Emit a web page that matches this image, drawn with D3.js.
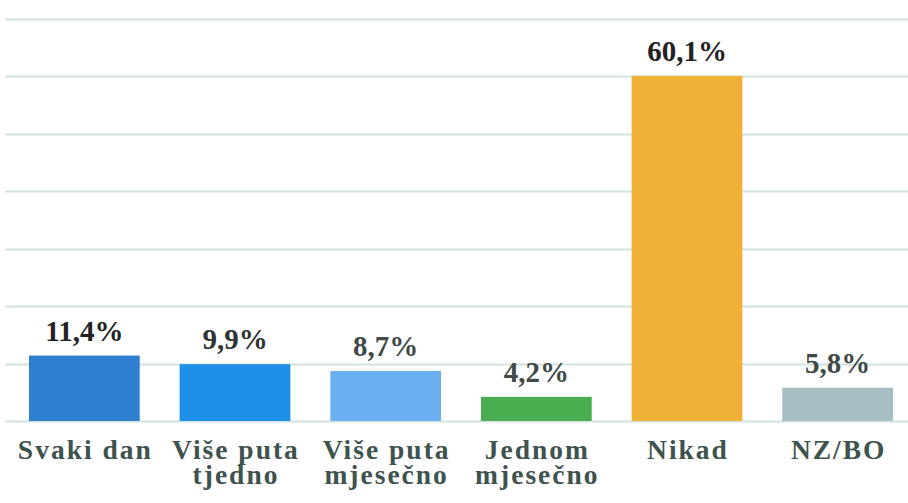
<!DOCTYPE html>
<html>
<head>
<meta charset="utf-8">
<script src="https://cdn.jsdelivr.net/npm/d3@7"></script>
<style>
  html, body { margin: 0; padding: 0; background: #ffffff; }
  svg { display: block; }
</style>
</head>
<body>
<svg id="chart" width="908" height="503"></svg>
<script>
const categories = [["Svaki dan"], ["Više puta", "tjedno"], ["Više puta", "mjesečno"], ["Jednom", "mjesečno"], ["Nikad"], ["NZ/BO"]];
const values = [11.4, 9.9, 8.7, 4.2, 60.1, 5.8];
const valueLabels = ["11,4%", "9,9%", "8,7%", "4,2%", "60,1%", "5,8%"];
const barColors = ["#2f7fd0", "#1f90ea", "#6aafef", "#4aad4f", "#efb136", "#a7bfc4"];
const gridTicks = [0, 10, 20, 30, 40, 50, 60, 70];

const FONT = "'Liberation Serif', 'Times New Roman', serif";
const svg = d3.select("#chart");
const keys = categories.map((c, i) => "c" + i);

const x = d3.scaleBand().domain(keys).range([9, 913]).paddingInner(0.265).paddingOuter(0.1325);
const y = d3.scaleLinear().domain([0, 70]).range([421, 19]);

// gridlines
svg.append("g").selectAll("line").data(gridTicks).join("line")
  .attr("x1", 5).attr("x2", 908)
  .attr("y1", d => Math.round(y(d)) + 0.5).attr("y2", d => Math.round(y(d)) + 0.5)
  .attr("stroke", "#d2e4df").attr("stroke-width", 2);

// bars
svg.append("g").selectAll("rect").data(values).join("rect")
  .attr("x", (d, i) => x(keys[i]))
  .attr("width", x.bandwidth())
  .attr("y", d => y(d))
  .attr("height", d => y(0) - y(d))
  .attr("fill", (d, i) => barColors[i]);

// value labels
svg.append("g").selectAll("text").data(values).join("text")
  .attr("x", (d, i) => x(keys[i]) + x.bandwidth() / 2)
  .attr("y", d => y(d) - 15)
  .attr("text-anchor", "middle")
  .attr("font-family", FONT)
  .attr("font-weight", "bold")
  .attr("font-size", 29)
  .attr("fill", (d, i) => (i === 0 || i === 4) ? "#222222" : (i === 1 ? "#2f3533" : "#3f4a47"))
  .text((d, i) => valueLabels[i]);

// category labels (one text per line)
const lines = [];
categories.forEach((c, i) => c.forEach((t, j) => lines.push({ i, j, t })));
const ls = 2;
svg.append("g").selectAll("text").data(lines).join("text")
  .attr("x", d => x(keys[d.i]) + x.bandwidth() / 2 + ls / 2)
  .attr("y", d => 459 + d.j * 25)
  .attr("text-anchor", "middle")
  .attr("font-family", FONT)
  .attr("font-weight", "bold")
  .attr("font-size", 27.5)
  .attr("letter-spacing", ls)
  .attr("fill", "#3e534e")
  .text(d => d.t);
</script>
</body>
</html>
